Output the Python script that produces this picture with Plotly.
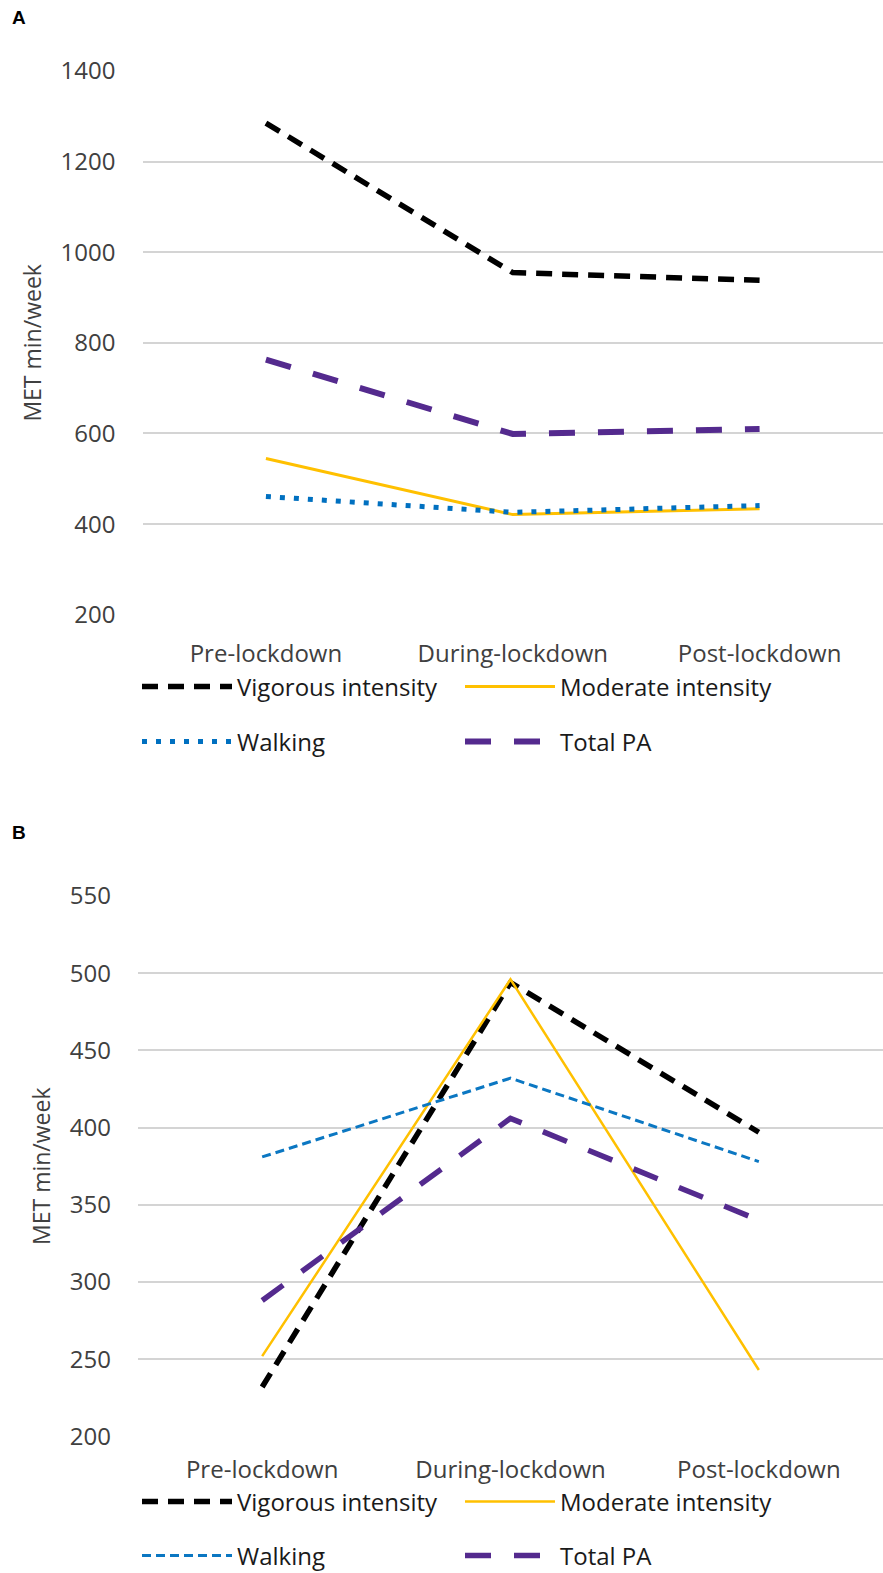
import plotly.graph_objects as go

categories = ["Pre-lockdown", "During-lockdown", "Post-lockdown"]
series_names = ["Vigorous intensity", "Moderate intensity", "Walking", "Total PA"]

# Panel A values (MET min/week)
a_vigorous = [1285, 955, 938]
a_moderate = [545, 421, 434]
a_walking = [461, 426, 441]
a_total = [763, 599, 610]

# Panel B values (MET min/week)
b_vigorous = [232, 494, 397]
b_moderate = [252, 496, 243]
b_walking = [381, 432, 378]
b_total = [288, 406, 340]

a_ticks = [200, 400, 600, 800, 1000, 1200, 1400]
b_ticks = [200, 250, 300, 350, 400, 450, 500, 550]

W, H = 883, 1573
FONT = "Open Sans"

fig = go.Figure()

a_styles = [
    dict(color="black", width=5.5, dash="16px,10px"),
    dict(color="#FFC000", width=3, dash="solid"),
    dict(color="#0070C0", width=5, dash="5px,9px"),
    dict(color="#542A8E", width=6, dash="26px,23px"),
]
b_styles = [
    dict(color="black", width=5.5, dash="16px,10px"),
    dict(color="#FFC000", width=2.5, dash="solid"),
    dict(color="#0B77C2", width=3, dash="9px,5px"),
    dict(color="#542A8E", width=5.5, dash="26px,23px"),
]

a_vals = [a_vigorous, a_moderate, a_walking, a_total]
b_vals = [b_vigorous, b_moderate, b_walking, b_total]
a_legends = ["legend", "legend", "legend2", "legend2"]
b_legends = ["legend3", "legend3", "legend4", "legend4"]

for name, vals, st, lg in zip(series_names, a_vals, a_styles, a_legends):
    fig.add_trace(go.Scatter(x=categories, y=vals, mode="lines", name=name,
                             line=st, xaxis="x", yaxis="y", legend=lg))
for name, vals, st, lg in zip(series_names, b_vals, b_styles, b_legends):
    fig.add_trace(go.Scatter(x=categories, y=vals, mode="lines", name=name,
                             line=st, xaxis="x2", yaxis="y2", legend=lg))

tickfont = dict(family=FONT, size=24, color="#404040")
titlefont = dict(family=FONT, size=23, color="#404040")

def xax(x0, anchor, standoff):
    return dict(domain=[x0 / W, 1], anchor=anchor, type="category",
                range=[-0.5, 2.5], showgrid=False, zeroline=False, showline=False,
                ticks="", tickfont=tickfont, ticklabelstandoff=standoff, fixedrange=True)

def yax(top, bottom, rng, ticks, anchor):
    return dict(domain=[1 - bottom / H, 1 - top / H], anchor=anchor,
                range=rng, tickvals=ticks, showgrid=True, gridcolor="#D4D4D4",
                gridwidth=2, zeroline=False, showline=False, ticks="",
                tickfont=tickfont, ticklabelstandoff=26,
                title=dict(text="MET min/week", font=titlefont, standoff=12),
                fixedrange=True)

def leg(yc):
    return dict(orientation="h", xref="container", yref="container",
                x=137 / W, xanchor="left", y=1 - yc / H,
                yanchor="middle", itemwidth=90, entrywidth=218,
                entrywidthmode="pixels", traceorder="normal",
                font=dict(family=FONT, size=24, color="#1a1a1a"),
                bgcolor="rgba(0,0,0,0)")

fig.update_layout(
    width=W, height=H, margin=dict(l=0, r=0, t=0, b=0, autoexpand=False),
    paper_bgcolor="white", plot_bgcolor="white", showlegend=True,
    xaxis=xax(142.5, "y", 22),
    yaxis=yax(70.7, 615, [199.5, 1400.5], a_ticks, "x"),
    xaxis2=xax(138, "y2", 16),
    yaxis2=yax(895.7, 1436.7, [199.8, 550.2], b_ticks, "x2"),
    legend=leg(687),
    legend2=leg(742),
    legend3=leg(1502),
    legend4=leg(1556),
    annotations=[
        dict(text="<b>A</b>", x=10 / W, y=1 - 18 / H, xref="paper", yref="paper",
             xanchor="left", yanchor="middle", showarrow=False,
             font=dict(family="Liberation Sans", size=19, color="black")),
        dict(text="<b>B</b>", x=10 / W, y=1 - 832 / H, xref="paper", yref="paper",
             xanchor="left", yanchor="middle", showarrow=False,
             font=dict(family="Liberation Sans", size=19, color="black")),
    ],
)

fig.write_html("out.html", config={"displayModeBar": False},
               post_script="document.body.style.margin='0';document.body.style.overflow='hidden';")
